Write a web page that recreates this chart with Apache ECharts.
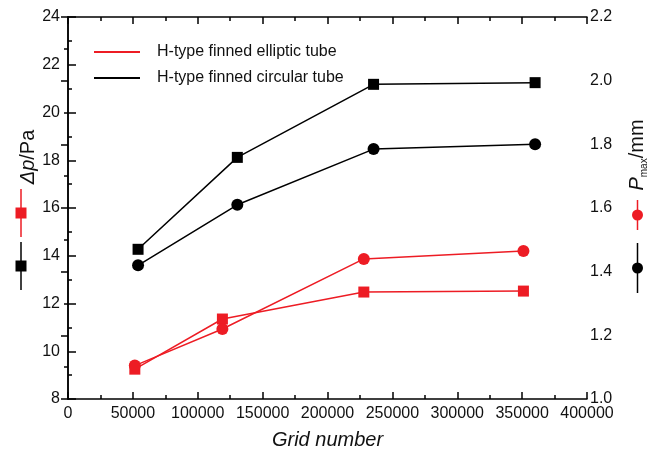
<!DOCTYPE html>
<html>
<head>
<meta charset="utf-8">
<script src="https://cdn.jsdelivr.net/npm/echarts@6/dist/echarts.min.js"></script>
<style>
  html, body { margin: 0; padding: 0; background: #fff; }
  #chart { width: 650px; height: 457px; }
</style>
</head>
<body>
<div id="chart"></div>
<script>
// Grid-independence study: pressure drop and max displacement vs. mesh size
const seriesNames = ['H-type finned elliptic tube', 'H-type finned circular tube'];

const gridElliptic = [51500, 119000, 228000, 351000];
const gridCircular = [54000, 130500, 235500, 360000];

const dpElliptic = [9.25, 11.35, 12.48, 12.52];
const dpCircular = [14.27, 18.12, 21.18, 21.25];

const pmaxElliptic = [1.105, 1.22, 1.44, 1.465];
const pmaxCircular = [1.42, 1.61, 1.785, 1.80];

const RED = '#ed1c24';
const BLACK = '#000000';
const FONT = 'Liberation Sans, Arial, sans-serif';

function pairs(xs, ys) { return xs.map((x, i) => [x, ys[i]]); }

const chart = echarts.init(document.getElementById('chart'), null, { renderer: 'canvas' });

const axisLine = { show: true, lineStyle: { color: '#000', width: 1.5 } };
const labelStyle = { color: '#111', fontSize: 16, fontFamily: FONT };

function lineSeries(name, xs, ys, color, symbol, size, yIndex) {
  return {
    name: name,
    type: 'line',
    yAxisIndex: yIndex,
    data: pairs(xs, ys),
    symbol: symbol,
    symbolSize: size,
    showSymbol: true,
    lineStyle: { color: color, width: 1.5 },
    itemStyle: { color: color },
    emphasis: { disabled: true },
    animation: false
  };
}

chart.setOption({
  animation: false,
  grid: { left: 68, right: 63, top: 17, bottom: 58, containLabel: false },
  legend: {
    data: seriesNames,
    orient: 'vertical',
    left: 89,
    top: 39,
    icon: 'rect',
    itemWidth: 46,
    itemHeight: 2,
    itemGap: 10,
    textStyle: { fontSize: 16, fontFamily: FONT, color: '#111', lineHeight: 16, padding: [0, 0, 0, 12] }
  },
  xAxis: [
    {
      type: 'value', position: 'bottom', min: 0, max: 400000, interval: 50000,
      axisLine: axisLine,
      axisTick: { show: true, inside: true, length: 7, lineStyle: { color: '#000', width: 1.5 } },
      minorTick: { show: true, splitNumber: 2, length: 4, lineStyle: { color: '#000', width: 1.5 } },
      splitLine: { show: false },
      axisLabel: Object.assign({ margin: 7, formatter: v => String(v) }, labelStyle),
      name: 'Grid number',
      nameLocation: 'middle',
      nameGap: 31,
      nameTextStyle: { fontSize: 20, fontStyle: 'italic', fontFamily: FONT, color: '#111' }
    },
    {
      type: 'value', position: 'top', min: 0, max: 400000, interval: 50000,
      axisLine: axisLine,
      axisTick: { show: true, inside: true, length: 7, lineStyle: { color: '#000', width: 1.5 } },
      minorTick: { show: true, splitNumber: 2, length: 4, lineStyle: { color: '#000', width: 1.5 } },
      splitLine: { show: false },
      axisLabel: { show: false }
    }
  ],
  yAxis: [
    {
      type: 'value', position: 'left', min: 8, max: 24, interval: 2,
      axisLine: axisLine,
      axisTick: { show: true, inside: true, length: 8, lineStyle: { color: '#000', width: 1.5 } },
      minorTick: { show: true, splitNumber: 2, length: 4, lineStyle: { color: '#000', width: 1.5 } },
      splitLine: { show: false },
      axisLabel: Object.assign({ margin: 8 }, labelStyle)
    },
    {
      type: 'value', position: 'right', min: 1.0, max: 2.2, interval: 0.2,
      axisLine: axisLine,
      axisTick: { show: true, inside: true, length: 7, lineStyle: { color: '#000', width: 1.5 } },
      minorTick: { show: true, splitNumber: 2, length: 4, lineStyle: { color: '#000', width: 1.5 } },
      splitLine: { show: false },
      axisLabel: Object.assign({ margin: 3, formatter: v => v.toFixed(1) }, labelStyle)
    }
  ],
  series: [
    lineSeries(seriesNames[0], gridElliptic, dpElliptic, RED, 'rect', 11, 0),
    lineSeries(seriesNames[0], gridElliptic, pmaxElliptic, RED, 'circle', 12, 1),
    lineSeries(seriesNames[1], gridCircular, dpCircular, BLACK, 'rect', 11, 0),
    lineSeries(seriesNames[1], gridCircular, pmaxCircular, BLACK, 'circle', 12, 1)
  ],
  graphic: [
    // left axis title with its symbol keys
    {
      type: 'text', x: 28, y: 157, rotation: Math.PI / 2,
      style: {
        text: '{i|Δp}/Pa', align: 'center', verticalAlign: 'middle',
        fontSize: 20, fontFamily: FONT, fill: '#111',
        rich: { i: { fontStyle: 'italic', fontSize: 20, fontFamily: FONT, fill: '#111' } }
      }
    },
    { type: 'line', shape: { x1: 21, y1: 189, x2: 21, y2: 237 }, style: { stroke: RED, lineWidth: 1.5 } },
    { type: 'rect', shape: { x: 15.5, y: 207.5, width: 11, height: 11 }, style: { fill: RED } },
    { type: 'line', shape: { x1: 21, y1: 242, x2: 21, y2: 290 }, style: { stroke: BLACK, lineWidth: 1.5 } },
    { type: 'rect', shape: { x: 15.5, y: 260.5, width: 11, height: 11 }, style: { fill: BLACK } },
    // right axis title with its symbol keys
    {
      type: 'text', x: 637, y: 155, rotation: Math.PI / 2,
      style: {
        text: '{i|P}{s|max}/mm', align: 'center', verticalAlign: 'middle',
        fontSize: 20, fontFamily: FONT, fill: '#111',
        rich: {
          i: { fontStyle: 'italic', fontSize: 20, fontFamily: FONT, fill: '#111', lineHeight: 24 },
          s: { fontSize: 10, fontFamily: FONT, fill: '#111', lineHeight: 24, verticalAlign: 'bottom' }
        }
      }
    },
    { type: 'line', shape: { x1: 637.5, y1: 200, x2: 637.5, y2: 230 }, style: { stroke: RED, lineWidth: 1.5 } },
    { type: 'circle', shape: { cx: 637.5, cy: 215, r: 5.5 }, style: { fill: RED } },
    { type: 'line', shape: { x1: 637.5, y1: 243, x2: 637.5, y2: 293 }, style: { stroke: BLACK, lineWidth: 1.5 } },
    { type: 'circle', shape: { cx: 637.5, cy: 268, r: 5.5 }, style: { fill: BLACK } }
  ]
});
</script>
</body>
</html>
